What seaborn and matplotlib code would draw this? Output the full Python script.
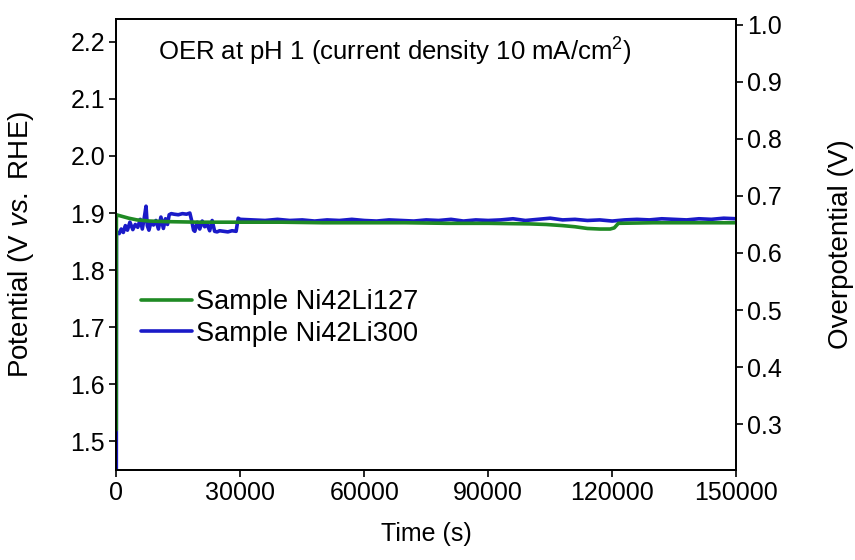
import numpy as np
import pandas as pd
import matplotlib
matplotlib.use("Agg")
import matplotlib.pyplot as plt
import seaborn as sns
from matplotlib.lines import Line2D

# ---- data ----
# Sample Ni42Li127 (green)
green_t = [0, 30, 500, 1500, 3000, 5000, 8000, 12000, 20000, 30000, 40000,
           50000, 60000, 70000, 80000, 90000, 100000, 104000, 108000, 111000,
           114000, 117000, 119500, 120500, 121500, 130000, 140000, 150000]
green_v = [1.520, 1.897, 1.896, 1.894, 1.891, 1.888, 1.886, 1.885, 1.884, 1.884, 1.884,
           1.883, 1.883, 1.883, 1.882, 1.882, 1.881, 1.880, 1.878, 1.876,
           1.873, 1.872, 1.872, 1.874, 1.882, 1.883, 1.883, 1.883]

# Sample Ni42Li300 (blue)
blue_t = [0, 40, 300, 700, 1200, 1700, 2200, 2700, 3300, 4000, 4600, 5200,
          5800, 6300, 6800, 7200, 7500, 7900, 8400, 9000, 9600, 10200, 10800,
          11400, 11900, 12400, 12800, 13300, 14000, 15000, 16000, 17000, 17800,
          18300, 18700, 19000, 19600, 20200, 20800, 21400, 22000, 22600, 23200,
          23800, 24400, 25000, 26000, 27000, 28000, 29000, 29500, 30000,
          33000, 36000, 39000, 42000, 45000, 48000, 51000, 54000, 57000, 60000,
          63000, 66000, 69000, 72000, 75000, 78000, 81000, 84000, 87000, 90000,
          93000, 96000, 99000, 102000, 105000, 108000, 111000, 114000, 117000,
          120000, 123000, 126000, 129000, 132000, 135000, 138000, 141000,
          144000, 147000, 150000]
blue_v = [1.300, 1.862, 1.866, 1.864, 1.872, 1.866, 1.878, 1.870, 1.884, 1.871, 1.880, 1.875,
          1.889, 1.872, 1.893, 1.912, 1.878, 1.870, 1.884, 1.879, 1.887, 1.872, 1.893,
          1.873, 1.890, 1.880, 1.897, 1.899, 1.898, 1.897, 1.899, 1.898, 1.900,
          1.885, 1.870, 1.868, 1.884, 1.872, 1.886, 1.876, 1.880, 1.869, 1.887,
          1.868, 1.867, 1.869, 1.868, 1.867, 1.869, 1.868, 1.891, 1.889,
          1.888, 1.887, 1.889, 1.887, 1.888, 1.886, 1.888, 1.887, 1.889, 1.887,
          1.886, 1.888, 1.887, 1.886, 1.888, 1.887, 1.889, 1.886, 1.888, 1.887,
          1.888, 1.890, 1.887, 1.889, 1.891, 1.888, 1.889, 1.887, 1.888,
          1.886, 1.888, 1.889, 1.888, 1.890, 1.889, 1.888, 1.890,
          1.889, 1.891, 1.890]

labels = ["Sample Ni42Li127", "Sample Ni42Li300"]
colors = ["#1f8a24", "#1a1ac8"]
x_ticks = [0, 30000, 60000, 90000, 120000, 150000]
left_ticks = [1.5, 1.6, 1.7, 1.8, 1.9, 2.0, 2.1, 2.2]
right_ticks = [0.3, 0.4, 0.5, 0.6, 0.7, 0.8, 0.9, 1.0]

E_OER = 1.23  # overpotential = potential - 1.23 V
y_lo, y_hi = 1.45, 2.24

sns.set_style("ticks")
plt.rcParams["font.family"] = ["Liberation Sans", "DejaVu Sans"]
plt.rcParams["mathtext.fontset"] = "custom"
plt.rcParams["mathtext.rm"] = "Liberation Sans"
plt.rcParams["mathtext.it"] = "Liberation Sans:italic"
plt.rcParams["text.color"] = "black"
plt.rcParams["axes.labelcolor"] = "black"
plt.rcParams["xtick.color"] = "black"
plt.rcParams["ytick.color"] = "black"

fig = plt.figure(figsize=(8.55, 5.6), dpi=100)
ax = fig.add_axes([0.136, 0.161, 0.725, 0.805])

df_g = pd.DataFrame({"t": green_t, "v": green_v})
df_b = pd.DataFrame({"t": blue_t, "v": blue_v})

sns.lineplot(data=df_b, x="t", y="v", ax=ax, color=colors[1], lw=2.6,
             estimator=None, sort=False, zorder=2)
sns.lineplot(data=df_g, x="t", y="v", ax=ax, color=colors[0], lw=2.6,
             estimator=None, sort=False, zorder=3)

ax.set_xlim(0, 150000)
ax.set_ylim(y_lo, y_hi)
ax.set_xticks(x_ticks)
ax.set_yticks(left_ticks)
ax.set_xlabel("Time (s)", fontsize=18, labelpad=12)
ax.set_ylabel(r"Potential (V $\mathit{vs.}$ RHE)", fontsize=20, labelpad=25)
ax.tick_params(labelsize=18, length=5, width=1.2, direction="out", pad=3)

ax2 = ax.twinx()
ax2.set_ylim(y_lo - E_OER, y_hi - E_OER)
ax2.set_yticks(right_ticks)
ax2.set_ylabel("Overpotential (V)", fontsize=20, labelpad=33)
ax2.tick_params(labelsize=18, length=5, width=1.2, direction="out", pad=3)

for a in (ax, ax2):
    for s in a.spines.values():
        s.set_visible(True)
        s.set_linewidth(1.3)
        s.set_color("black")

ax.text(0.068, 0.927, r"OER at pH 1 (current density 10 mA/cm$^2$)",
        transform=ax.transAxes, fontsize=18.5, va="center", ha="left")

handles = [Line2D([], [], color=c, lw=2.6) for c in colors]
ax.legend(handles, labels, loc="upper left", bbox_to_anchor=(0.0, 0.455),
          frameon=False, fontsize=19.5, handlelength=1.9, handletextpad=0.15,
          labelspacing=0.2)

fig.savefig("out.png", dpi=100)
